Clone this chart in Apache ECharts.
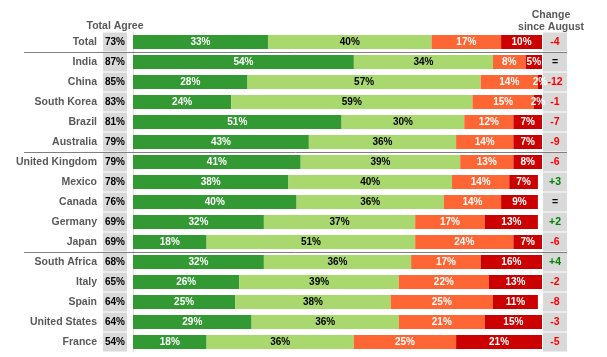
<!DOCTYPE html>
<html><head><meta charset="utf-8">
<script src="https://cdn.jsdelivr.net/npm/echarts@6/dist/echarts.min.js"></script>
<style>html,body{margin:0;padding:0;background:#fff}#c{width:607px;height:357px}</style>
</head><body><div id="c"></div>
<script>
const categories = ['Total','India','China','South Korea','Brazil','Australia','United Kingdom','Mexico','Canada','Germany','Japan','South Africa','Italy','Spain','United States','France'];
const totalAgree = [73,87,85,83,81,79,79,78,76,69,69,68,65,64,64,54];
const stronglyAgree = [33,54,28,24,51,43,41,38,40,32,18,32,26,25,29,18];
const somewhatAgree = [40,34,57,59,30,36,39,40,36,37,51,36,39,38,36,36];
const somewhatDisagree = [17,8,14,15,12,14,13,14,14,17,24,17,22,25,21,25];
const stronglyDisagree = [10,5,2,2,7,7,8,7,9,13,7,16,13,11,15,21];
const changeSinceAugust = ['-4','=','-12','-1','-7','-9','-6','+3','=','+2','-6','+4','-2','-8','-3','-5'];
const separatorsAfter = [0,5,10];

const FONT = 'Liberation Sans, Arial, sans-serif';
const chart = echarts.init(document.getElementById('c'), null, {renderer:'canvas'});
const TOP = 32, BOTTOM = 5;
const ones = categories.map(() => 1);

function barSeries(name, data, color, labelColor){
  return {
    name, type:'bar', stack:'s', data, xAxisIndex:0, yAxisIndex:0,
    barWidth:14, itemStyle:{color}, clip:true,
    label:{show:true, position:'inside', formatter:p=>p.value+'%', color:labelColor,
      fontFamily:FONT, fontWeight:'bold', fontSize:10}
  };
}

chart.setOption({
  animation:false,
  grid:[
    {left:133, right:65, top:TOP, bottom:BOTTOM},
    {left:103, width:24, top:TOP, bottom:BOTTOM},
    {left:543, width:24, top:TOP, bottom:BOTTOM}
  ],
  xAxis:[
    {gridIndex:0, type:'value', min:0, max:100, show:false},
    {gridIndex:1, type:'value', min:0, max:1, show:false},
    {gridIndex:2, type:'value', min:0, max:1, show:false}
  ],
  yAxis:[
    {gridIndex:0, type:'category', data:categories, inverse:true,
      axisLine:{show:true, lineStyle:{color:'#d9d9d9'}}, axisTick:{show:false}, axisLabel:{show:false}},
    {gridIndex:1, type:'category', data:categories, inverse:true,
      axisLine:{show:false}, axisTick:{show:false},
      axisLabel:{margin:6, color:'#595959', fontFamily:FONT, fontWeight:'bold', fontSize:10.5}},
    {gridIndex:2, type:'category', data:categories, inverse:true, show:false}
  ],
  series:[
    barSeries('Strongly agree', stronglyAgree, '#339933', '#ffffff'),
    barSeries('Somewhat agree', somewhatAgree, '#a9d86e', '#000000'),
    barSeries('Somewhat disagree', somewhatDisagree, '#ff6633', '#ffffff'),
    barSeries('Strongly disagree', stronglyDisagree, '#cc0000', '#ffffff'),
    {type:'bar', xAxisIndex:1, yAxisIndex:1, data:ones, barWidth:19,
      itemStyle:{color:'#d9d9d9'}, silent:true,
      label:{show:true, position:'inside', formatter:p=>totalAgree[p.dataIndex]+'%',
        color:'#000', fontFamily:FONT, fontWeight:'bold', fontSize:10}},
    {type:'bar', xAxisIndex:2, yAxisIndex:2, barWidth:19,
      itemStyle:{color:'#d9d9d9'}, silent:true,
      data: ones.map((v,i)=>{
        const s = changeSinceAugust[i];
        const c = s.startsWith('-') ? '#ff0000' : (s.startsWith('+') ? '#008000' : '#000000');
        return {value:v, label:{color:c}};
      }),
      label:{show:true, position:'inside', formatter:p=>changeSinceAugust[p.dataIndex],
        fontFamily:FONT, fontWeight:'bold', fontSize:10.5}}
  ]
});

const x0 = 24, x1 = 567;
const graphics = separatorsAfter.map(i=>{
  const a = chart.convertToPixel({yAxisIndex:0}, categories[i]);
  const b = chart.convertToPixel({yAxisIndex:0}, categories[i+1]);
  const y = Math.round((a+b)/2)+0.5;
  return {type:'line', shape:{x1:x0, y1:y, x2:x1, y2:y}, style:{stroke:'#808080', lineWidth:1}, z:10};
});
const hdr = {fill:'#595959', font:'bold 10.5px ' + FONT, textAlign:'center', textVerticalAlign:'middle'};
graphics.push({type:'text', x:115, y:26, style:Object.assign({text:'Total Agree'}, hdr)});
graphics.push({type:'text', x:551, y:15, style:Object.assign({text:'Change'}, hdr)});
graphics.push({type:'text', x:551, y:27, style:Object.assign({text:'since August'}, hdr)});
chart.setOption({graphic:graphics});
</script>
</body></html>
